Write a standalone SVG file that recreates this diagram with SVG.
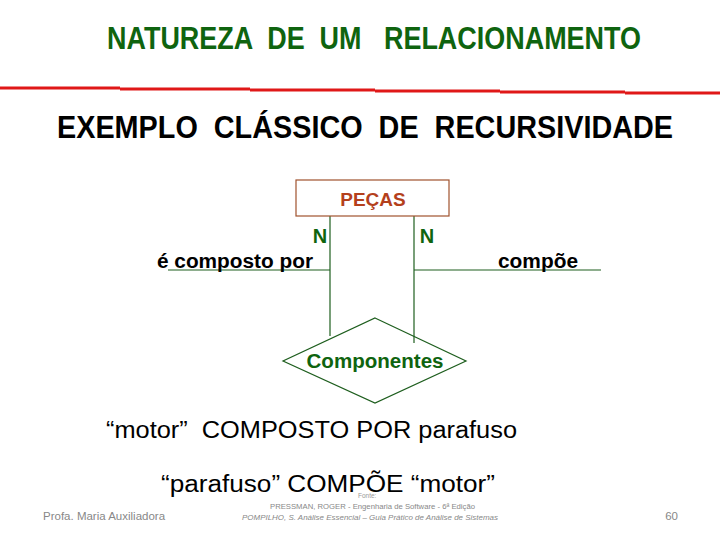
<svg xmlns="http://www.w3.org/2000/svg" width="720" height="540" viewBox="0 0 720 540">
<style>
text{white-space:pre}
.t{font-family:"Liberation Sans",Arial,sans-serif}
.ln{stroke:#1e5e1e;stroke-width:1.2;fill:none}
.g{fill:#0f640f;font-weight:bold}
</style>
<rect width="720" height="540" fill="#fff"/>
<text class="t g" x="107" y="49" font-size="31" textLength="534" lengthAdjust="spacingAndGlyphs" xml:space="preserve">NATUREZA  DE  UM   RELACIONAMENTO</text>
<g id="redline" stroke="#e01818" stroke-width="3">
<line x1="0" y1="88" x2="120" y2="88"/>
<line x1="120" y1="89" x2="250" y2="89"/>
<line x1="250" y1="90" x2="375" y2="90"/>
<line x1="375" y1="91" x2="500" y2="91"/>
<line x1="500" y1="92" x2="625" y2="92"/>
<line x1="625" y1="93" x2="720" y2="93"/>
</g>
<text class="t" x="57" y="138" font-size="32" font-weight="bold" fill="#000" textLength="616" lengthAdjust="spacingAndGlyphs" xml:space="preserve">EXEMPLO  CLÁSSICO  DE  RECURSIVIDADE</text>
<g id="connectors">
<line class="ln" x1="330" y1="216" x2="330" y2="336"/>
<line class="ln" x1="414" y1="216" x2="414" y2="343"/>
<line class="ln" x1="168" y1="270" x2="330" y2="270"/>
<line class="ln" x1="414" y1="270" x2="601" y2="270"/>
</g>
<g id="pecas">
<rect x="296" y="180" width="153" height="36" fill="#fff" stroke="#a0522d" stroke-width="1.2"/>
<text class="t" x="373" y="206" font-size="19" font-weight="bold" fill="#b4401c" text-anchor="middle">PEÇAS</text>
</g>
<g id="componentes">
<polygon points="375,318 466,361 375,403 283,361" fill="none" stroke="#1e5e1e" stroke-width="1.2"/>
<text class="t g" x="375" y="368" font-size="20" text-anchor="middle" textLength="137" lengthAdjust="spacingAndGlyphs">Componentes</text>
</g>
<g id="labels">
<text class="t g" x="320" y="243" font-size="20" text-anchor="middle">N</text>
<text class="t g" x="427" y="243" font-size="20" text-anchor="middle">N</text>
<text class="t" x="157" y="268" font-size="20" font-weight="bold" fill="#000" textLength="156" lengthAdjust="spacingAndGlyphs">é composto por</text>
<text class="t" x="498" y="268" font-size="20" font-weight="bold" fill="#000" textLength="80" lengthAdjust="spacingAndGlyphs">compõe</text>
</g>
<text class="t" x="106" y="438" font-size="23" fill="#000" textLength="411" lengthAdjust="spacingAndGlyphs" xml:space="preserve">“motor”  COMPOSTO POR parafuso</text>
<text class="t" x="161" y="492" font-size="23" fill="#000" textLength="334" lengthAdjust="spacingAndGlyphs">“parafuso” COMPÕE “motor”</text>
<text class="t" x="358" y="498" font-size="6.5" fill="#999">Fonte:</text>
<text class="t" x="270" y="509" font-size="7.5" fill="#888" textLength="205" lengthAdjust="spacingAndGlyphs">PRESSMAN, ROGER - Engenharia de Software - 6ª Edição</text>
<text class="t" x="242" y="520" font-size="7.5" fill="#888" font-style="italic" textLength="256" lengthAdjust="spacingAndGlyphs">POMPILHO, S. Análise Essencial – Guia Prático de Análise de Sistemas</text>
<text class="t" x="43" y="520" font-size="11.5" fill="#888">Profa. Maria Auxiliadora</text>
<text class="t" x="678" y="520" font-size="11.5" fill="#888" text-anchor="end">60</text>
</svg>
